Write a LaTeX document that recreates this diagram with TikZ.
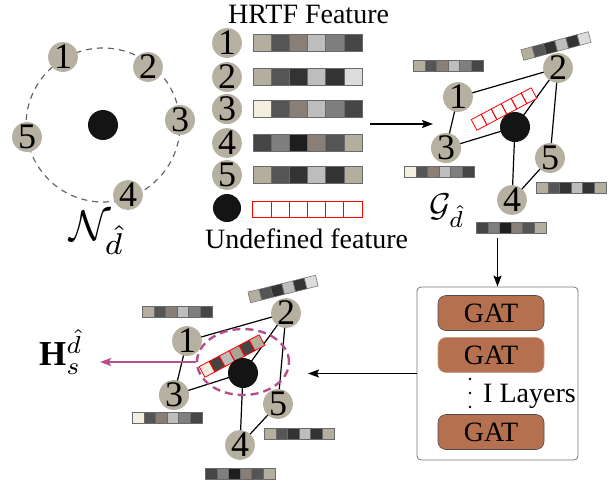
\documentclass[tikz,border=0pt]{standalone}
\usepackage{fontspec}
\setmainfont{Liberation Serif}
\usetikzlibrary{arrows.meta,shapes.geometric}
\definecolor{ntan}{HTML}{B5B09F}
\definecolor{ca}{HTML}{B4AE9E}
\definecolor{cb}{HTML}{555555}
\definecolor{cc}{HTML}{8A7F76}
\definecolor{cd}{HTML}{BDBDBD}
\definecolor{ce}{HTML}{7F7F7F}
\definecolor{cf}{HTML}{454545}
\definecolor{cg}{HTML}{333333}
\definecolor{ch}{HTML}{DCDCDC}
\definecolor{ci}{HTML}{F3EFE0}
\definecolor{cj}{HTML}{1E1E1E}
\definecolor{ck}{HTML}{A8A394}
\definecolor{barline}{HTML}{6A6A6A}
\definecolor{gatfill}{HTML}{B4704F}
\definecolor{hmag}{HTML}{B5508A}
\definecolor{redline}{HTML}{FF0000}
\newcommand{\fbar}[7]{% center, angle, cell w, cell h, line colour, line width, colours
  \begin{scope}[shift={(#1)},rotate=#2]
    \foreach \c [count=\i] in {#7}
      \fill[\c] ({(\i-4)*#3},{-#4/2}) rectangle ({(\i-3)*#3},{#4/2});
    \foreach \i in {1,...,6}
      \draw[#5, line width=#6]
        ({(\i-4)*#3},{-#4/2}) rectangle ({(\i-3)*#3},{#4/2});
  \end{scope}}
\tikzset{
  numnode/.style={circle, fill=ntan, minimum size=29pt, inner sep=0pt,
    font=\fontsize{36}{36}\selectfont},
  blackdot/.style={circle, fill=black!92, minimum size=30pt, inner sep=0pt},
  edge/.style={line width=1.2pt, black},
  arr/.style={line width=1.6pt, -{Stealth[length=11pt,width=8pt,inset=2pt]}},
  gatnode/.style={rounded corners=8pt, fill=gatfill, draw=black!70, line width=0.6pt,
    minimum width=106pt, minimum height=35pt, inner sep=0pt,
    font=\fontsize{28}{28}\selectfont},
  lbl/.style={font=\fontsize{28}{28}\selectfont, inner sep=0pt},
  mathlbl/.style={inner sep=0pt, transform shape, scale=#1},
}
\begin{document}
\begin{tikzpicture}[x=1pt,y=-1pt]
\useasboundingbox (0,0) rectangle (615,483);

% ---------- left panel ----------
\draw[black!60, dash pattern=on 6pt off 5pt, line width=1.2pt] (103,125) circle (77pt);
\node[blackdot] (c0) at (103,125) {};
\node[numnode] (n1) at (63,57) {1};
\node[numnode] (n2) at (148,67) {2};
\node[numnode] (n3) at (180,120) {3};
\node[numnode] (n4) at (128,195) {4};
\node[numnode] (n5) at (27,137) {5};
\node[mathlbl=4.3] (nlab) at (97,233) {$\mathcal{N}_{\hat{d}}$};

% ---------- middle column ----------
\node[lbl, anchor=base west] (hrtf) at (228,23) {HRTF Feature};
\node[numnode, minimum size=28pt] (m1) at (227,43) {1};
\node[numnode, minimum size=28pt] (m2) at (227,77) {2};
\node[numnode, minimum size=28pt] (m3) at (227,109) {3};
\node[numnode, minimum size=28pt] (m4) at (227,143) {4};
\node[numnode, minimum size=28pt] (m5) at (227,175) {5};
\node[blackdot, minimum size=28pt] (m0) at (227,208) {};
\fbar{307.5,43}{0}{18.2}{17}{barline}{0.6pt}{ca,cb,cc,cd,ce,cf}
\fbar{307.5,77}{0}{18.2}{17}{barline}{0.6pt}{ca,cb,cg,cd,cg,ch}
\fbar{307.5,109}{0}{18.2}{17}{barline}{0.6pt}{ci,cb,cc,cd,ce,cf}
\fbar{307.5,143}{0}{18.2}{17}{barline}{0.6pt}{cf,ce,cj,cc,cb,ca}
\fbar{307.5,175}{0}{18.2}{17}{barline}{0.6pt}{ca,cb,cg,cd,cg,ca}
\fbar{307.5,209}{0}{18.2}{16}{redline}{0.9pt}{white,white,white,white,white,white}
\node[lbl, anchor=base west] (undef) at (205,248) {Undefined feature};

\coordinate (a1s) at (370,124);
\coordinate (a1e) at (433,124);
\draw[arr] (a1s) -- (a1e);

% ---------- top-right graph ----------
\coordinate (g0p) at (515,127);
\coordinate (g1p) at (458,97);
\coordinate (g2p) at (558,68);
\coordinate (g3p) at (446,148);
\coordinate (g4p) at (512,200);
\coordinate (g5p) at (550,158);
\draw[edge] (g1p) -- (g2p);
\draw[edge] (g1p) -- (g3p);
\draw[edge] (g3p) -- (g0p);
\draw[edge] (g0p) -- (g2p);
\draw[edge] (g2p) -- (g5p);
\draw[edge] (g0p) -- (g4p);
\draw[edge] (g4p) -- (g5p);
\fbar{504,109}{28}{11.3}{12}{redline}{0.8pt}{white,white,white,white,white,white}
\node[blackdot] (g0) at (g0p) {};
\node[numnode] (g1) at (g1p) {1};
\node[numnode] (g2) at (g2p) {2};
\node[numnode] (g3) at (g3p) {3};
\node[numnode] (g4) at (g4p) {4};
\node[numnode] (g5) at (g5p) {5};
\fbar{448,66}{0}{11.6}{11}{barline}{0.5pt}{ca,cb,cc,cd,ce,cf}
\fbar{556,46}{15}{11.6}{11}{barline}{0.5pt}{ca,cb,cg,cd,cg,ch}
\fbar{439,172}{0}{11.6}{11}{barline}{0.5pt}{ci,cb,cc,cd,ce,cf}
\fbar{571,188}{0}{11.6}{11}{barline}{0.5pt}{ca,cb,cg,cd,cg,ca}
\fbar{511,228}{0}{11.6}{11}{barline}{0.5pt}{cf,ce,cj,cc,cb,ca}
\node[mathlbl=3.3] (glab) at (447,211) {$\mathcal{G}_{\hat{d}}$};

% ---------- GAT box ----------
\node[draw=black!55, line width=0.8pt, rounded corners=4pt, minimum width=161pt,
      minimum height=173pt, inner sep=0pt] (gatbox) at (497.5,373.5) {};
\node[gatnode] (gat1) at (491,313) {GAT};
\node[gatnode, draw=gatfill!70!white] (gat2) at (491,355) {GAT};
\node[gatnode] (gat3) at (491,432) {GAT};
\fill[black] (470,379) circle (1.4pt) (470,393) circle (1.4pt) (470,407) circle (1.4pt);
\node[lbl, anchor=base west] (layers) at (483,402) {I Layers};
\coordinate (a2s) at (497.5,238);
\draw[arr] (a2s) -- (gatbox.north);
\coordinate (a3e) at (308,373.5);
\draw[arr] (gatbox.west) -- (a3e);

% ---------- bottom graph ----------
\coordinate (b0p) at (243,373);
\coordinate (b1p) at (187,341);
\coordinate (b2p) at (286,313);
\coordinate (b3p) at (174,395);
\coordinate (b4p) at (240,445);
\coordinate (b5p) at (278,404);
\draw[edge] (b1p) -- (b2p);
\draw[edge] (b1p) -- (b3p);
\draw[edge] (b3p) -- (b0p);
\draw[edge] (b0p) -- (b2p);
\draw[edge] (b2p) -- (b5p);
\draw[edge] (b0p) -- (b4p);
\draw[edge] (b4p) -- (b5p);
\node[draw=hmag, dash pattern=on 8pt off 5pt, line width=2.4pt, ellipse,
      minimum width=92pt, minimum height=66pt, inner sep=0pt] (hell) at (243,362) {};
\fbar{232,356}{28}{11.3}{12}{redline}{0.8pt}{ci,cf,cd,ck,cf,ca}
\node[blackdot] (b0) at (b0p) {};
\node[numnode] (b1) at (b1p) {1};
\node[numnode] (b2) at (b2p) {2};
\node[numnode] (b3) at (b3p) {3};
\node[numnode] (b4) at (b4p) {4};
\node[numnode] (b5) at (b5p) {5};
\fbar{177,312}{0}{11.6}{11}{barline}{0.5pt}{ca,cb,cc,cd,ce,cf}
\fbar{283,289}{14}{11.6}{11}{barline}{0.5pt}{ca,cb,cg,cd,cg,ch}
\fbar{167,418}{0}{11.6}{11}{barline}{0.5pt}{ci,cb,cc,cd,ce,cf}
\fbar{299,434}{0}{11.6}{11}{barline}{0.5pt}{ca,cb,cg,cd,cg,ca}
\fbar{240,474}{0}{11.6}{11}{barline}{0.5pt}{cf,ce,cj,cc,cb,ca}
\coordinate (a4e) at (100,362);
\draw[arr, hmag, line width=2pt] (hell.west) -- (a4e);
\node[mathlbl=3.5] (hlab) at (61,352) {$\mathbf{H}_{s}^{\hat{d}}$};
\end{tikzpicture}
\end{document}
